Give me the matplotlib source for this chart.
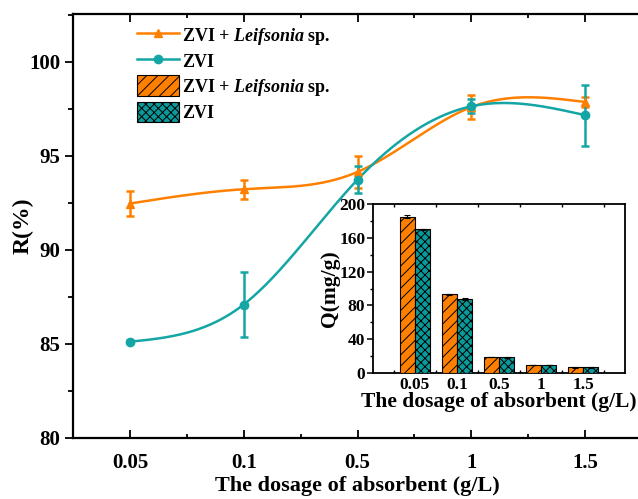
import numpy as np
import matplotlib
matplotlib.use("Agg")
import matplotlib.pyplot as plt
from matplotlib.lines import Line2D
from matplotlib.patches import Patch
from matplotlib.ticker import MultipleLocator, FixedLocator

plt.rcParams['font.family'] = ['Liberation Serif', 'DejaVu Serif']
plt.rcParams['font.weight'] = 'bold'
plt.rcParams['mathtext.fontset'] = 'custom'
plt.rcParams['mathtext.it'] = 'Liberation Serif:italic:bold'
plt.rcParams['mathtext.rm'] = 'Liberation Serif:bold'
plt.rcParams['hatch.linewidth'] = 0.7

# ---------------- data ----------------
dosage_labels = ["0.05", "0.1", "0.5", "1", "1.5"]
R_leif = [92.47, 93.23, 94.15, 97.6, 97.87]
R_leif_err = [0.65, 0.5, 0.85, 0.65, 0.28]
R_zvi = [85.12, 87.1, 93.74, 97.64, 97.17]
R_zvi_err = [0.08, 1.72, 0.7, 0.37, 1.63]
Q_leif = [185, 93, 18.8, 9.8, 6.6]
Q_leif_err = [1.5, 0.6, 0.3, 0.2, 0.2]
Q_zvi = [170, 87.6, 18.6, 9.8, 6.6]
Q_zvi_err = [0.6, 1.5, 0.3, 0.2, 0.2]

ORANGE = '#FF8000'
TEAL = '#14A5A5'
TEAL_BAR = '#0A9A9A'

def natural_spline(x, y, n=300):
    x = np.asarray(x, float); y = np.asarray(y, float)
    m = len(x); h = np.diff(x)
    A = np.zeros((m, m)); b = np.zeros(m)
    A[0, 0] = 1; A[-1, -1] = 1
    for i in range(1, m - 1):
        A[i, i - 1] = h[i - 1]; A[i, i] = 2 * (h[i - 1] + h[i]); A[i, i + 1] = h[i]
        b[i] = 3 * ((y[i + 1] - y[i]) / h[i] - (y[i] - y[i - 1]) / h[i - 1])
    c = np.linalg.solve(A, b)
    xs = np.linspace(x[0], x[-1], n); ys = np.empty_like(xs)
    for k, xv in enumerate(xs):
        i = min(np.searchsorted(x, xv, side='right') - 1, m - 2)
        dx = xv - x[i]
        bb = (y[i + 1] - y[i]) / h[i] - h[i] * (2 * c[i] + c[i + 1]) / 3
        d = (c[i + 1] - c[i]) / (3 * h[i])
        ys[k] = y[i] + bb * dx + c[i] * dx ** 2 + d * dx ** 3
    return xs, ys

W, H = 638, 499
fig = plt.figure(figsize=(W / 100, H / 100), dpi=100)
ax = fig.add_axes([73 / W, (H - 438) / H, (642 - 73) / W, (438 - 14) / H])

pos = np.arange(1, len(dosage_labels) + 1)

for vals, errs, col, mk in [(R_leif, R_leif_err, ORANGE, '^'), (R_zvi, R_zvi_err, TEAL, 'o')]:
    xs, ys = natural_spline(pos, vals)
    ax.plot(xs, ys, color=col, lw=1.8, zorder=3)
    ax.errorbar(pos, vals, yerr=errs, fmt=mk, color=col, ms=6, capsize=3.2,
                elinewidth=1.8, capthick=1.8, zorder=4)

ax.set_xlim(0.5, 5.5)
ax.set_ylim(80, 102.55)
ax.set_xticks(pos)
ax.set_xticklabels(dosage_labels)
ax.xaxis.set_minor_locator(FixedLocator(pos + 0.5))
ax.yaxis.set_major_locator(MultipleLocator(5))
ax.yaxis.set_minor_locator(MultipleLocator(2.5))
ax.tick_params(axis='y', which='major', direction='out', length=6, width=1.3, labelsize=15, pad=3)
ax.tick_params(axis='y', which='minor', direction='out', length=3.5, width=1.3)
ax.tick_params(axis='x', which='major', direction='in', length=6, width=1.3, labelsize=15, pad=11, top=True)
ax.tick_params(axis='x', which='minor', direction='in', length=3, width=1.3, top=True)
for s in ax.spines.values():
    s.set_linewidth(1.6)
ax.set_xlabel('The dosage of absorbent (g/L)', fontsize=16, fontweight='bold', labelpad=2)
ax.set_ylabel('R(%)', fontsize=17, fontweight='bold', labelpad=-3)

leif_label = r'ZVI + $\it{Leifsonia}$ sp.'
handles = [
    Line2D([0], [0], color=ORANGE, lw=1.8, marker='^', ms=6),
    Line2D([0], [0], color=TEAL, lw=1.8, marker='o', ms=6),
    Patch(facecolor=ORANGE, edgecolor='black', hatch='///', lw=0.8),
    Patch(facecolor=TEAL_BAR, edgecolor='black', hatch='xxxx', lw=0.8),
]
labels = [leif_label, 'ZVI', leif_label, 'ZVI']
leg = ax.legend(handles, labels, loc='upper left', bbox_to_anchor=((137 - 73) / 569, (438 - 25) / 424),
                frameon=False, fontsize=13, handlelength=2.35, handleheight=1.35,
                handletextpad=0.15, labelspacing=0.22, borderpad=0, borderaxespad=0)

# ---------------- inset ----------------
ins = fig.add_axes([373 / W, (H - 373) / H, (625 - 373) / W, (373 - 204) / H])
bw = 0.36
ins.bar(pos - bw / 2, Q_leif, bw, yerr=Q_leif_err, color=ORANGE, edgecolor='black', hatch='///',
        lw=0.8, error_kw=dict(ecolor='black', capsize=2, elinewidth=0.8, capthick=0.8), zorder=3)
ins.bar(pos + bw / 2, Q_zvi, bw, yerr=Q_zvi_err, color=TEAL_BAR, edgecolor='black', hatch='xxxx',
        lw=0.8, error_kw=dict(ecolor='black', capsize=2, elinewidth=0.8, capthick=0.8), zorder=3)
ins.set_xlim(0, 6)
ins.set_ylim(0, 200)
ins.set_xticks(pos)
ins.set_xticklabels(dosage_labels)
ins.xaxis.set_minor_locator(FixedLocator(np.arange(0.5, 6, 1)))
ins.yaxis.set_major_locator(MultipleLocator(40))
ins.yaxis.set_minor_locator(MultipleLocator(20))
ins.tick_params(axis='y', which='major', direction='out', length=4, width=1.1, labelsize=12.5, pad=1.5, right=False)
ins.tick_params(axis='y', which='minor', direction='out', length=2.5, width=1.0)
ins.tick_params(axis='x', which='major', direction='in', length=0, width=1.1, labelsize=12.5, pad=3)
ins.tick_params(axis='x', which='minor', direction='in', length=2.5, width=1.0, top=True)
for s in ins.spines.values():
    s.set_linewidth(1.3)
ins.set_xlabel('The dosage of absorbent (g/L)', fontsize=15.5, fontweight='bold', labelpad=-1)
ins.set_ylabel('Q(mg/g)', fontsize=15.5, fontweight='bold', labelpad=-0.5)

fig.savefig('out.png', dpi=100)
